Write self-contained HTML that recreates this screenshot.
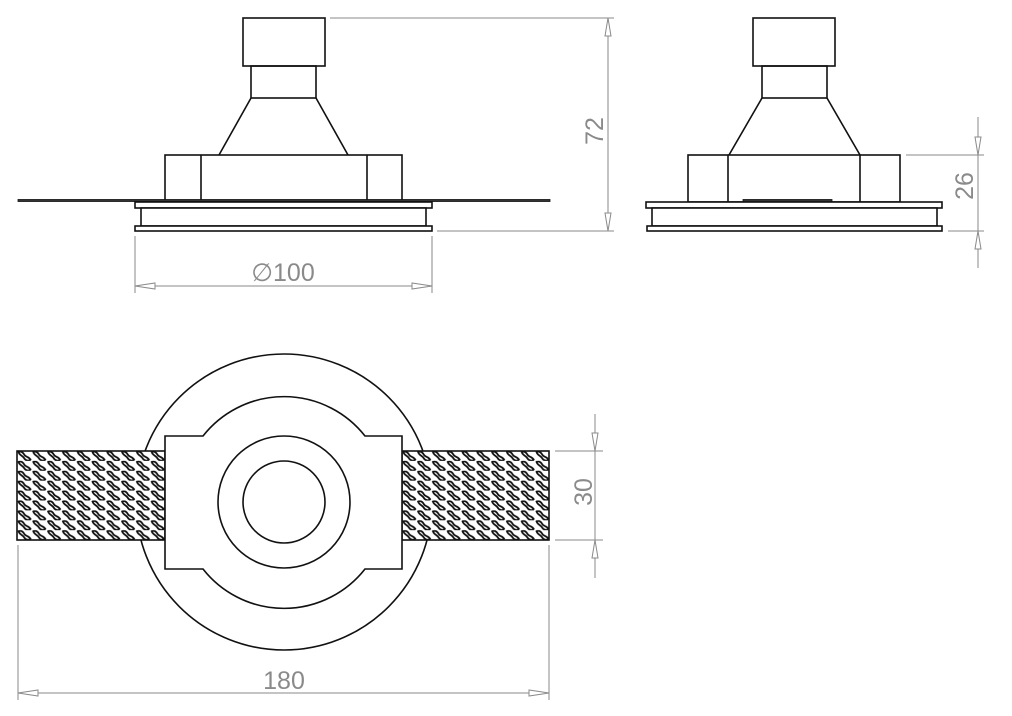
<!DOCTYPE html>
<html><head><meta charset="utf-8"><style>
html,body{margin:0;padding:0;background:#fff;}
svg{display:block;}
text{font-family:"Liberation Sans",sans-serif;fill:#8a8a8a;font-size:25px;}
</style></head><body>
<svg width="1012" height="716" viewBox="0 0 1012 716" xmlns="http://www.w3.org/2000/svg">
<defs>
<pattern id="mesh" x="17" y="451" width="14.8" height="9.9" patternUnits="userSpaceOnUse">
<rect width="14.8" height="9.9" fill="#fff"/>
<path d="M1.5,1 C4,-0.5 6.5,2 7.5,4 C8.5,6 11.5,5.5 13.5,8.5 C11.5,11 8,9 7,7 C6,5 2.5,4.5 1.5,1 Z" fill="none" stroke="#111" stroke-width="1.8"/>
<path d="M7.4,-4.9 C9.9,-6.4 12.4,-3.9 13.4,-1.9 M1.5,11 C3,10 5,10.5 6,12" fill="none" stroke="#111" stroke-width="1.4"/>
</pattern>
</defs>
<g fill="none" stroke="#111" stroke-width="1.6">
<rect x="243" y="18" width="82" height="48"/>
<rect x="251" y="66" width="65" height="32"/>
<path d="M251,98 L219,155 M316,98 L348,155"/>
<rect x="165" y="155" width="237" height="46"/>
<path d="M201,155 V201 M367,155 V201"/>
<rect x="18" y="199.5" width="532" height="2" fill="#333" stroke-width="0.8"/>
<rect x="135" y="202" width="297" height="6" fill="#fff"/>
<rect x="141" y="208" width="285" height="18" fill="#fff"/>
<rect x="135" y="226" width="297" height="5" fill="#fff"/>
<rect x="753" y="18" width="82" height="48"/>
<rect x="762" y="66" width="65" height="32"/>
<path d="M762,98 L729,155 M827,98 L860,155"/>
<rect x="688" y="155" width="212" height="47"/>
<path d="M728,155 V202 M860,155 V202"/>
<rect x="743" y="199.5" width="89" height="2.5" fill="#333" stroke-width="0.8"/>
<rect x="646" y="202" width="296" height="6" fill="#fff"/>
<rect x="652" y="208" width="285" height="18" fill="#fff"/>
<rect x="647" y="226" width="295" height="5" fill="#fff"/>
<circle cx="284" cy="502" r="148" fill="#fff"/>
<rect x="17" y="451" width="148" height="89" fill="url(#mesh)"/>
<rect x="402" y="451" width="147" height="89" fill="url(#mesh)"/>
<path d="M165,436 L203,436 A103,103 0 0 1 365,436 L402,436 L402,569 L365,569 A103,103 0 0 1 203,569 L165,569 Z" fill="#fff"/>
<circle cx="284" cy="502" r="66"/>
<circle cx="284" cy="502" r="41"/>
</g>
<g fill="none" stroke="#8a8a8a" stroke-width="1">
<path d="M330,18 H614 M437,231 H614 M608,18 V231"/>
<path d="M608,18 L605,36 L611,36 Z M608,231 L605,213 L611,213 Z" fill="#fff"/>
<path d="M135,236 V293 M432,236 V293 M135,286 H432"/>
<path d="M135,286 L155,283 L155,289 Z M432,286 L412,283 L412,289 Z" fill="#fff"/>
<path d="M906,155 H984 M948,231 H984 M978,117 V268"/>
<path d="M978,155 L975,137 L981,137 Z M978,231 L975,249 L981,249 Z" fill="#fff"/>
<path d="M555,451 H603 M555,540 H603 M595,414 V578"/>
<path d="M595,451 L592,433 L598,433 Z M595,540 L592,558 L598,558 Z" fill="#fff"/>
<path d="M18,545 V700 M549,545 V700 M18,693 H549"/>
<path d="M18,693 L38,690 L38,696 Z M549,693 L529,690 L529,696 Z" fill="#fff"/>
</g>
<text x="283" y="281" text-anchor="middle">∅100</text>
<text x="284" y="689" text-anchor="middle">180</text>
<text transform="translate(603,131) rotate(-90)" text-anchor="middle">72</text>
<text transform="translate(973,186) rotate(-90)" text-anchor="middle">26</text>
<text transform="translate(592,492) rotate(-90)" text-anchor="middle">30</text>
</svg>
</body></html>
